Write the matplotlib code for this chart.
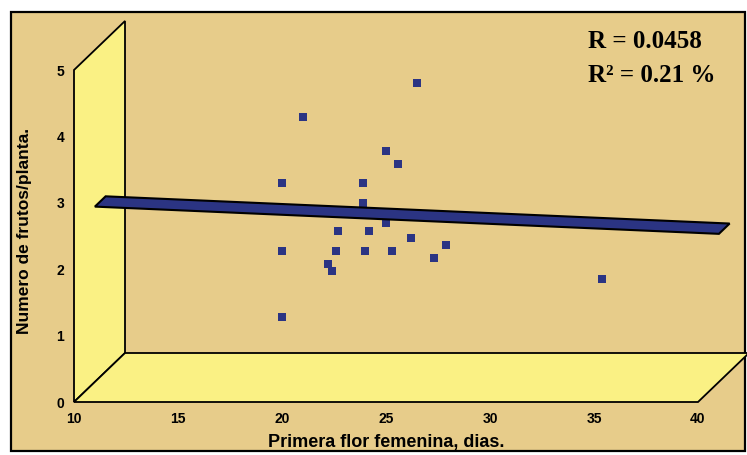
import matplotlib
matplotlib.use('Agg')
import matplotlib.pyplot as plt
from matplotlib.patches import Polygon, Rectangle

# días a la primera flor femenina vs. número de frutos por planta
dias = [26.5, 21.0, 25.0, 25.6, 20.0, 23.9, 23.9, 25.4, 25.0, 22.7, 24.2,
        26.2, 27.9, 20.0, 22.6, 24.0, 25.3, 27.3, 22.2, 22.4, 35.4, 20.0]
frutos = [4.80, 4.29, 3.78, 3.58, 3.30, 3.30, 3.00, 2.86, 2.70, 2.58, 2.58,
          2.47, 2.36, 2.27, 2.27, 2.27, 2.27, 2.17, 2.08, 1.97, 1.85, 1.28]

# recta de regresión en los extremos del eje
recta_x = [10, 40]
recta_y = [2.64, 2.23]

x_ticks = [10, 15, 20, 25, 30, 35, 40]
y_ticks = [0, 1, 2, 3, 4, 5]

fondo = '#e7cc8a'
amarillo = '#faf184'
azul = '#2b3483'

W, H = 747, 455
fig = plt.figure(figsize=(W / 100, H / 100), dpi=100)
fig.patch.set_facecolor('white')

# marco del gráfico
marco = Rectangle((11 / W, 1 - 451 / H), 734 / W, 439 / H,
                  transform=fig.transFigure, facecolor=fondo,
                  edgecolor='black', linewidth=1.6, zorder=-5)
fig.patches.append(marco)

ax = fig.add_axes([74 / W, 1 - 402 / H, 624 / W, 332 / H])
ax.set_zorder(2)
ax.set_xlim(10, 40)
ax.set_ylim(0, 5)
ax.patch.set_visible(False)
for s in ax.spines.values():
    s.set_visible(False)

# profundidad del efecto 3D en unidades de datos
DX = 51 / 624 * 30
DY = 49 / 332 * 5

pared = Polygon([(10, 0), (10, 5), (10 + DX, 5 + DY), (10 + DX, DY)],
                closed=True, facecolor=amarillo, edgecolor='black',
                linewidth=1.3, clip_on=False, zorder=1)
piso = Polygon([(10, 0), (40, 0), (40 + DX, DY), (10 + DX, DY)],
               closed=True, facecolor=amarillo, edgecolor='black',
               linewidth=1.3, clip_on=False, zorder=1)
ax.add_patch(pared)
ax.add_patch(piso)

ax.plot(dias, frutos, linestyle='none', marker='s', markersize=5.8,
        color=azul, markeredgewidth=0, clip_on=False, zorder=3)

d1, d2 = 0.41, 0.62
cinta = Polygon([(recta_x[0] + d1 * DX, recta_y[0] + d1 * DY),
                 (recta_x[1] + d1 * DX, recta_y[1] + d1 * DY),
                 (recta_x[1] + d2 * DX, recta_y[1] + d2 * DY),
                 (recta_x[0] + d2 * DX, recta_y[0] + d2 * DY)],
                closed=True, facecolor=azul, edgecolor='black',
                linewidth=1.5, joinstyle='miter', clip_on=False, zorder=4)
ax.add_patch(cinta)

ax.set_xticks(x_ticks)
ax.set_yticks(y_ticks)
ax.set_xticklabels([str(v) for v in x_ticks], fontsize=10, fontweight='bold')
ax.set_yticklabels([str(v) for v in y_ticks], fontsize=10, fontweight='bold')
ax.tick_params(axis='x', length=0, pad=7)
ax.tick_params(axis='y', length=0, pad=7)
for lab in ax.get_xticklabels() + ax.get_yticklabels():
    lab.set_family('Liberation Sans')

fig.text(386 / W, 1 - 442 / H, 'Primera flor femenina, dias.',
         ha='center', va='center', fontsize=13, fontweight='bold',
         family='Liberation Sans')
fig.text(25 / W, 1 - 231 / H, 'Numero de frutos/planta.', rotation=90,
         ha='center', va='center', fontsize=12.5, fontweight='bold',
         family='Liberation Sans')

fig.text(588 / W, 1 - 48 / H, 'R = 0.0458', ha='left', va='baseline',
         fontsize=18, fontweight='bold', family='Liberation Serif')
fig.text(588 / W, 1 - 82 / H, 'R² = 0.21 %', ha='left',
         va='baseline', fontsize=18, fontweight='bold',
         family='Liberation Serif')

fig.savefig('out.png', dpi=100)
